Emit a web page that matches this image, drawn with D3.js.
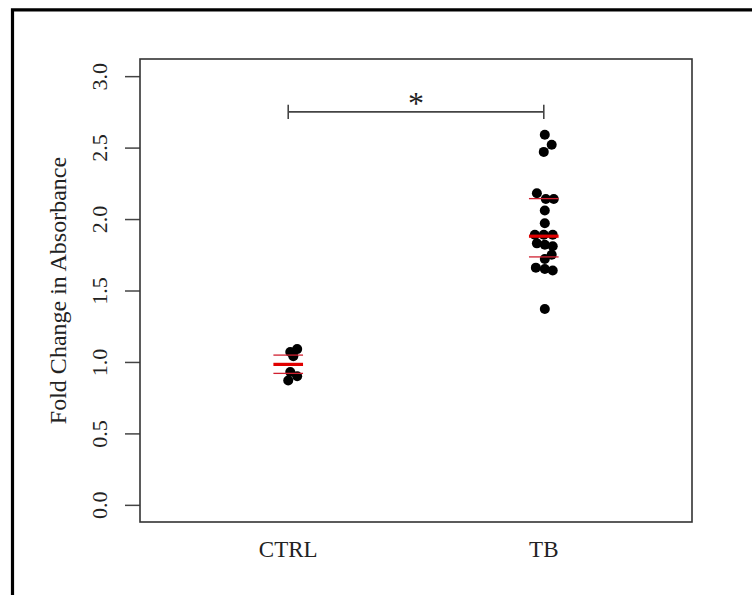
<!DOCTYPE html>
<html>
<head>
<meta charset="utf-8">
<script src="https://cdn.jsdelivr.net/npm/d3@7"></script>
<style>
  html, body { margin: 0; padding: 0; background: #fff; }
  svg { display: block; }
  text { font-family: "Liberation Serif", "DejaVu Serif", serif; fill: #222; }
</style>
</head>
<body>
<svg id="chart" width="752" height="595"></svg>
<script>
// ---- data ----
const categories = ["CTRL", "TB"];
const yTicks = [0.0, 0.5, 1.0, 1.5, 2.0, 2.5, 3.0];
const yLabel = "Fold Change in Absorbance";

const ctrlValues = [1.09, 1.07, 1.04, 0.93, 0.90, 0.87];
const ctrlJitter = [0.035, 0.008, 0.020, 0.008, 0.035, 0.0];

const tbValues = [2.59, 2.52, 2.47, 2.18, 2.14, 2.14, 2.06, 1.97, 1.89, 1.89, 1.89,
                  1.83, 1.82, 1.81, 1.75, 1.72, 1.66, 1.65, 1.64, 1.37];
const tbJitter = [0.004, 0.031, 0.0, -0.027, 0.008, 0.039, 0.004, 0.004, -0.035, 0.0, 0.035,
                  -0.027, 0.004, 0.035, 0.031, 0.004, -0.031, 0.004, 0.035, 0.004];

const centers = [0.983, 1.88];      // thick red line
const lowerLines = [0.92, 1.735];   // thin lower line
const upperLines = [1.048, 2.143];  // thin upper line

const sigLevel = 2.75;
const sigLabel = "*";

// ---- drawing ----
const svg = d3.select("#chart");

// outer frame (cropped figure border)
svg.append("path")
  .attr("d", "M12.5,600 L12.5,9.8 L760,9.8")
  .attr("fill", "none").attr("stroke", "#000").attr("stroke-width", 3.2);

const x = d3.scaleLinear().domain([0.42, 2.58]).range([140, 692]);
const y = d3.scaleLinear().domain([-0.12, 3.12]).range([522, 59]);

// y axis
const yAxis = svg.append("g")
  .attr("transform", `translate(${x.range()[0]},0)`)
  .call(d3.axisLeft(y).tickValues(yTicks).tickSize(15).tickFormat(d3.format(".1f")));
yAxis.select(".domain").remove();
yAxis.selectAll(".tick line").attr("stroke", "#444").attr("stroke-width", 1.5);
yAxis.selectAll(".tick text")
  .attr("x", 0).attr("y", -33).attr("dy", null)
  .attr("transform", "rotate(-90)")
  .attr("text-anchor", "middle")
  .style("font-size", "22px")
  .style("font-family", "'Liberation Serif', 'DejaVu Serif', serif")
  .attr("fill", "#222");

// plot box
svg.append("rect")
  .attr("x", x.range()[0]).attr("y", y.range()[1])
  .attr("width", x.range()[1] - x.range()[0])
  .attr("height", y.range()[0] - y.range()[1])
  .attr("fill", "none").attr("stroke", "#333").attr("stroke-width", 1.6);

// category labels
svg.selectAll("text.cat").data(categories).enter().append("text")
  .attr("class", "cat")
  .attr("x", (d, i) => x(i + 1))
  .attr("y", 557)
  .attr("text-anchor", "middle")
  .style("font-size", "23px")
  .text(d => d);

// y label
svg.append("text")
  .attr("transform", `translate(66,${(y.range()[0] + y.range()[1]) / 2}) rotate(-90)`)
  .attr("text-anchor", "middle")
  .style("font-size", "24px")
  .text(yLabel);

// points
const groups = [
  { vals: ctrlValues, jit: ctrlJitter, pos: 1 },
  { vals: tbValues, jit: tbJitter, pos: 2 }
];
groups.forEach(g => {
  svg.append("g").selectAll("circle").data(g.vals).enter().append("circle")
    .attr("cx", (d, i) => x(g.pos + g.jit[i]))
    .attr("cy", d => y(d))
    .attr("r", 5)
    .attr("fill", "#000");
});

// summary lines
const hw = 0.058;
[0, 1].forEach(i => {
  const p = i + 1;
  [lowerLines[i], upperLines[i]].forEach(v => {
    svg.append("line")
      .attr("x1", x(p - hw)).attr("x2", x(p + hw))
      .attr("y1", y(v)).attr("y2", y(v))
      .attr("stroke", "#d02030").attr("stroke-width", 1.3);
  });
  svg.append("line")
    .attr("x1", x(p - hw)).attr("x2", x(p + hw))
    .attr("y1", y(centers[i])).attr("y2", y(centers[i]))
    .attr("stroke", "#e00000").attr("stroke-width", 3.2);
});

// significance bracket
const br = svg.append("g").attr("stroke", "#444").attr("stroke-width", 1.6).attr("fill", "none");
br.append("line").attr("x1", x(1)).attr("x2", x(2)).attr("y1", y(sigLevel)).attr("y2", y(sigLevel));
[1, 2].forEach(p => {
  br.append("line").attr("x1", x(p)).attr("x2", x(p))
    .attr("y1", y(sigLevel + 0.05)).attr("y2", y(sigLevel - 0.05));
});
svg.append("text")
  .attr("x", x(1.5)).attr("y", y(sigLevel) + 2)
  .attr("text-anchor", "middle")
  .style("font-size", "32px")
  .text(sigLabel);
</script>
</body>
</html>
